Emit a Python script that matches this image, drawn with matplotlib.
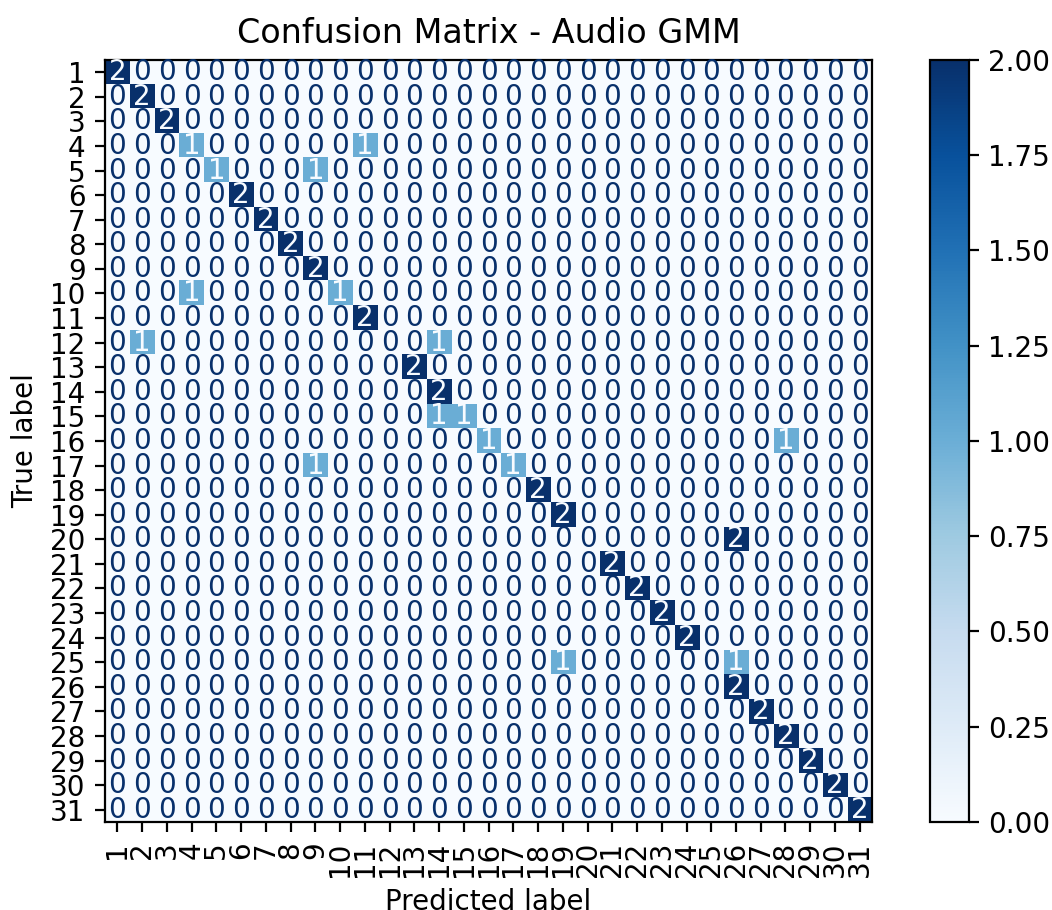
import numpy as np
import matplotlib
matplotlib.use("Agg")
import matplotlib.pyplot as plt

# class labels 1..31
labels = [str(i) for i in range(1, 32)]

# non-zero cells of the confusion matrix (true label, predicted label, count)
true_lab = [1, 2, 3, 4, 4, 5, 5, 6, 7, 8, 9, 10, 10, 11, 12, 12, 13, 14, 15, 15,
            16, 16, 17, 17, 18, 19, 20, 21, 22, 23, 24, 25, 25, 26, 27, 28, 29, 30, 31]
pred_lab = [1, 2, 3, 4, 11, 5, 9, 6, 7, 8, 9, 4, 10, 11, 2, 14, 13, 14, 14, 15,
            16, 28, 9, 17, 18, 19, 26, 21, 22, 23, 24, 19, 26, 26, 27, 28, 29, 30, 31]
counts = [2, 2, 2, 1, 1, 1, 1, 2, 2, 2, 2, 1, 1, 2, 1, 1, 2, 2, 1, 1,
          1, 1, 1, 1, 2, 2, 2, 2, 2, 2, 2, 1, 1, 2, 2, 2, 2, 2, 2]

n = len(labels)
cm = np.zeros((n, n), dtype=int)
for t, p, c in zip(true_lab, pred_lab, counts):
    cm[t - 1, p - 1] = c

cmap = plt.cm.Blues
dpi = 200
fig = plt.figure(figsize=(1052 / dpi, 910 / dpi), dpi=dpi)
ax = fig.add_axes([0.0998, 0.0967, 0.7292, 0.8374])
cax = fig.add_axes([0.884, 0.0967, 0.037, 0.8374])

im = ax.imshow(cm, cmap=cmap, interpolation="nearest", aspect="auto")
fig.colorbar(im, cax=cax)

# text colour like sklearn: light text on dark cells
thresh = (cm.max() + cm.min()) / 2.0
for i in range(n):
    for j in range(n):
        color = cmap(0) if cm[i, j] >= thresh else cmap(1.0)
        ax.text(j, i, str(cm[i, j]), ha="center", va="center", color=color)

ax.set_xticks(np.arange(n))
ax.set_yticks(np.arange(n))
ax.set_xticklabels(labels, rotation=90)
ax.set_yticklabels(labels)
ax.set_xlabel("Predicted label")
ax.set_ylabel("True label")
ax.set_title("Confusion Matrix - Audio GMM")

fig.savefig("out.png", dpi=dpi)
